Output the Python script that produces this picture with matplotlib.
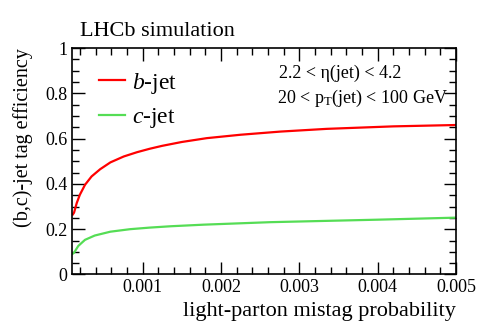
import numpy as np
import matplotlib
matplotlib.use('Agg')
import matplotlib.pyplot as plt
from matplotlib.ticker import MultipleLocator, FormatStrFormatter

plt.rcParams['font.family'] = ['Liberation Serif', 'DejaVu Serif']
plt.rcParams['mathtext.fontset'] = 'custom'
plt.rcParams['mathtext.rm'] = 'Liberation Serif'
plt.rcParams['mathtext.it'] = 'Liberation Serif:italic'

# values
b_mistag = [0.00011, 0.000126, 0.00016, 0.0002, 0.000266, 0.00035, 0.00046, 0.00059,
            0.00076, 0.00093, 0.00109, 0.00125, 0.0015, 0.00182, 0.00225, 0.00276,
            0.00335, 0.0042, 0.005]
b_eff = [0.265, 0.273, 0.315, 0.352, 0.396, 0.433, 0.465, 0.495,
         0.521, 0.540, 0.555, 0.568, 0.585, 0.602, 0.617, 0.631,
         0.643, 0.654, 0.660]

c_mistag = [0.00011, 0.000126, 0.00018, 0.000266, 0.00039, 0.00059, 0.00084, 0.00109,
            0.00136, 0.00178, 0.00263, 0.004, 0.005]
c_eff = [0.092, 0.096, 0.126, 0.153, 0.172, 0.189, 0.200, 0.207,
         0.213, 0.220, 0.231, 0.242, 0.251]

fig = plt.figure(figsize=(4.8, 3.25), dpi=100)
ax = fig.add_axes([0.15, 0.1554, 0.80, 0.6969])

ax.plot(b_mistag, b_eff, color='#ff0000', lw=1.6, label='$b$-jet')
ax.plot(c_mistag, c_eff, color='#55dd55', lw=1.6, label='$c$-jet')

ax.set_xlim(0.0001, 0.005)
ax.set_ylim(0, 1)
ax.xaxis.set_major_locator(MultipleLocator(0.001))
ax.xaxis.set_minor_locator(MultipleLocator(0.0002))
ax.yaxis.set_major_locator(MultipleLocator(0.2))
ax.yaxis.set_minor_locator(MultipleLocator(0.05))
ax.xaxis.set_major_formatter(FormatStrFormatter('%g'))
ax.yaxis.set_major_formatter(FormatStrFormatter('%g'))
ax.tick_params(which='both', direction='in', top=True, right=True, labelsize=13)
ax.tick_params(which='major', length=9, width=1)
ax.tick_params(which='minor', length=5, width=1)
for s in ax.spines.values():
    s.set_linewidth(1.2)

ax.set_xlabel('light-parton mistag probability', fontsize=16, loc='right')
ax.set_ylabel('(b,c)-jet tag efficiency', fontsize=14.5, loc='top', labelpad=8.5)

ax.legend(loc='upper left', bbox_to_anchor=(0.07, 0.90), frameon=False,
          borderaxespad=0, borderpad=0,
          fontsize=17, handlelength=1.1, handletextpad=0.3, labelspacing=0.45)

ax.text(0.54, 0.89, '2.2 < η(jet) < 4.2', transform=ax.transAxes,
        ha='left', va='center', fontsize=13)
ax.text(0.535, 0.776, '20 < p$_\\mathrm{T}$(jet) < 100 GeV', transform=ax.transAxes,
        ha='left', va='center', fontsize=13)

fig.text(0.167, 0.902, 'LHCb simulation', fontsize=16, ha='left', va='center')

fig.savefig('out.png', dpi=100)
